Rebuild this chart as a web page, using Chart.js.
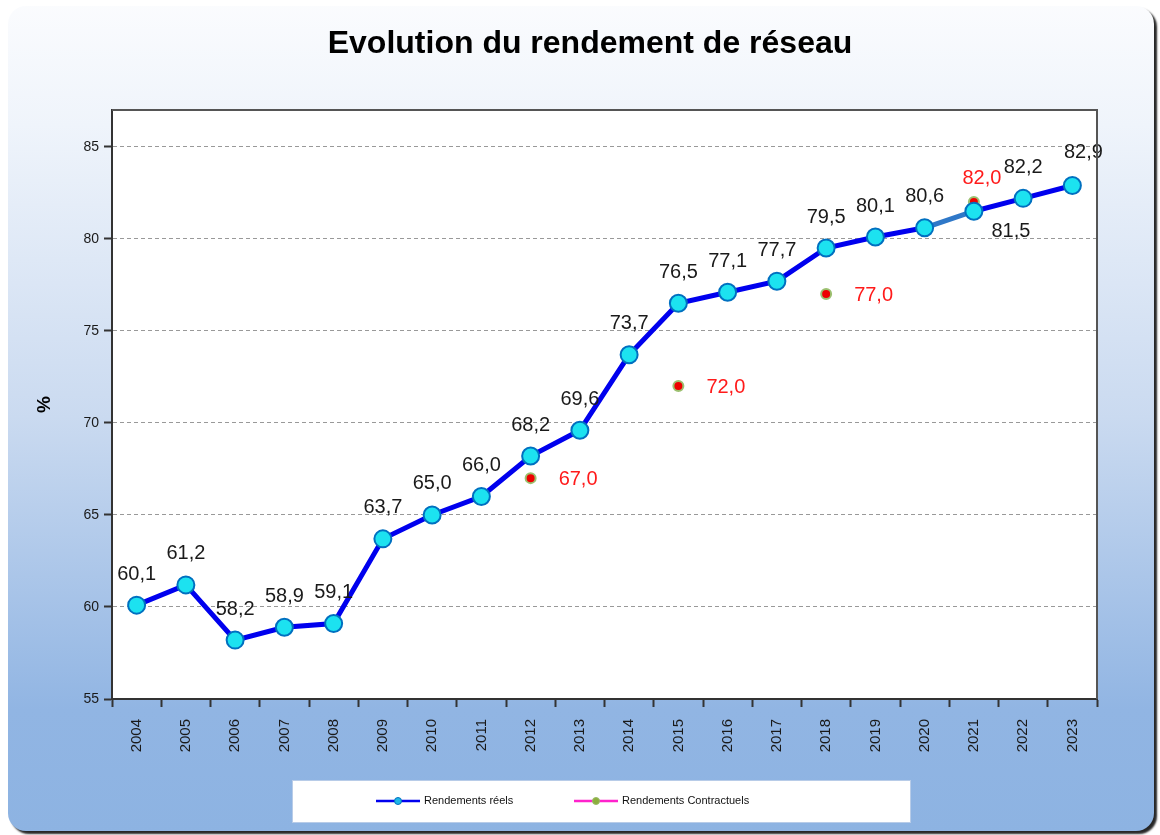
<!DOCTYPE html>
<html>
<head>
<meta charset="utf-8">
<script src="https://cdn.jsdelivr.net/npm/chart.js@4.4.1/dist/chart.umd.min.js"></script>
<style>
  html, body { margin: 0; padding: 0; background: #ffffff; }
  #wrap { width: 1160px; height: 835px; }
</style>
</head>
<body>
<div id="wrap"><canvas id="rendementChart" width="1160" height="835"></canvas></div>
<script>
// Données
const annees = ['2004', '2005', '2006', '2007', '2008', '2009', '2010', '2011', '2012', '2013',
                '2014', '2015', '2016', '2017', '2018', '2019', '2020', '2021', '2022', '2023'];
const rendementsReels = [60.1, 61.2, 58.2, 58.9, 59.1, 63.7, 65.0, 66.0, 68.2, 69.6,
                         73.7, 76.5, 77.1, 77.7, 79.5, 80.1, 80.6, 81.5, 82.2, 82.9];
const rendementsContractuels = [null, null, null, null, null, null, null, null, 67.0, null,
                                null, 72.0, null, null, 77.0, null, null, 82.0, null, null];
const graduationsY = [55, 60, 65, 70, 75, 80, 85];

const fmt = v => v.toFixed(1).replace('.', ',');

// Fond dégradé + zone de tracé blanche + cadre
const fondPlugin = {
    id: 'fond',
    beforeDraw(chart) {
        const { ctx, chartArea: a } = chart;
        ctx.save();
        ctx.fillStyle = '#ffffff';
        ctx.fillRect(0, 0, chart.width, chart.height);
        const g = ctx.createLinearGradient(0, 0, 0, chart.height);
        g.addColorStop(0, '#fbfcfe');
        g.addColorStop(0.15, '#eff4fb');
        g.addColorStop(0.5, '#cadaf0');
        g.addColorStop(0.85, '#91b5e3');
        g.addColorStop(1, '#8db3e2');
        ctx.shadowColor = 'rgba(0,0,0,0.85)';
        ctx.shadowOffsetX = 3;
        ctx.shadowOffsetY = 3;
        ctx.shadowBlur = 2;
        ctx.fillStyle = g;
        ctx.beginPath();
        ctx.roundRect(8, 6, chart.width - 14, chart.height - 10, 18);
        ctx.fill();
        ctx.restore();
        ctx.save();
        ctx.fillStyle = '#ffffff';
        ctx.fillRect(a.left, a.top, a.right - a.left, a.bottom - a.top);
        ctx.restore();
    },
    afterDraw(chart) {
        const { ctx, chartArea: a } = chart;
        ctx.save();
        ctx.strokeStyle = '#555555';
        ctx.lineWidth = 2;
        ctx.beginPath();
        ctx.moveTo(a.left, a.top);
        ctx.lineTo(a.right, a.top);
        ctx.lineTo(a.right, a.bottom);
        ctx.stroke();
        ctx.restore();
    }
};

// Étiquettes de valeurs
const etiquettesPlugin = {
    id: 'etiquettes',
    afterDatasetsDraw(chart) {
        const { ctx } = chart;
        const reels = chart.getDatasetMeta(0).data;
        const contr = chart.getDatasetMeta(1).data;
        ctx.save();
        ctx.font = '20px "Liberation Sans", Arial, sans-serif';
        ctx.textBaseline = 'middle';
        rendementsReels.forEach((v, i) => {
            const p = reels[i];
            const c = rendementsContractuels[i];
            ctx.fillStyle = '#1a1a1a';
            ctx.textAlign = 'center';
            if (c !== null && c > v) {
                ctx.fillText(fmt(v), p.x + 37, p.y + 20);
            } else if (i === rendementsReels.length - 1) {
                ctx.fillText(fmt(v), p.x + 11, p.y - 33);
            } else {
                ctx.fillText(fmt(v), p.x, p.y - 31);
            }
        });
        rendementsContractuels.forEach((v, i) => {
            if (v === null) return;
            const p = contr[i];
            ctx.fillStyle = '#ff1a1a';
            if (v > rendementsReels[i]) {
                ctx.textAlign = 'center';
                ctx.fillText(fmt(v), p.x + 8, p.y - 24);
            } else {
                ctx.textAlign = 'left';
                ctx.fillText(fmt(v), p.x + 28, p.y + 1);
            }
        });
        ctx.restore();
    }
};

// Légende dans un cadre blanc
const legendePlugin = {
    id: 'legende',
    afterDraw(chart) {
        const { ctx } = chart;
        const bx = 292, by = 780, bw = 618, bh = 42;
        const cy = by + bh / 2;
        ctx.save();
        ctx.fillStyle = '#ffffff';
        ctx.fillRect(bx, by, bw, bh);
        ctx.strokeStyle = '#b8cce8';
        ctx.lineWidth = 1;
        ctx.strokeRect(bx + 0.5, by + 0.5, bw, bh);

        const items = [
            { x: 376, texte: 'Rendements réels', ligne: '#0000ee', fond: '#1fb7e6', bord: '#0070c0' },
            { x: 574, texte: 'Rendements Contractuels', ligne: '#ff22cc', fond: '#8cae3c', bord: '#99bb66' }
        ];
        items.forEach(it => {
            ctx.strokeStyle = it.ligne;
            ctx.lineWidth = 2.5;
            ctx.beginPath();
            ctx.moveTo(it.x, cy);
            ctx.lineTo(it.x + 44, cy);
            ctx.stroke();
            ctx.beginPath();
            ctx.arc(it.x + 22, cy, 3.5, 0, Math.PI * 2);
            ctx.fillStyle = it.fond;
            ctx.fill();
            ctx.strokeStyle = it.bord;
            ctx.lineWidth = 1;
            ctx.stroke();
            ctx.fillStyle = '#111111';
            ctx.font = '11px "Liberation Sans", Arial, sans-serif';
            ctx.textAlign = 'left';
            ctx.textBaseline = 'middle';
            ctx.fillText(it.texte, it.x + 48, cy);
        });
        ctx.restore();
    }
};

const ctx = document.getElementById('rendementChart').getContext('2d');

new Chart(ctx, {
    type: 'line',
    data: {
        labels: annees,
        datasets: [{
            label: 'Rendements réels',
            data: rendementsReels,
            borderColor: '#0000ee',
            borderWidth: 5,
            pointRadius: 8.5,
            pointBackgroundColor: '#1ce2f0',
            pointBorderColor: '#0070c0',
            pointBorderWidth: 2,
            tension: 0,
            segment: {
                borderColor: s => s.p0DataIndex === 16 ? '#2f78c8' : undefined
            }
        }, {
            label: 'Rendements Contractuels',
            data: rendementsContractuels,
            showLine: false,
            borderColor: '#ff22cc',
            pointRadius: 5,
            pointBackgroundColor: '#ee0000',
            pointBorderColor: '#9cc070',
            pointBorderWidth: 2
        }]
    },
    options: {
        responsive: false,
        devicePixelRatio: 1,
        animation: false,
        layout: { padding: { left: 20, right: 0, top: 0, bottom: 0 } },
        plugins: {
            legend: { display: false },
            tooltip: { enabled: false },
            title: {
                display: true,
                text: 'Evolution du rendement de réseau',
                color: '#000000',
                font: { family: '"Liberation Sans", Arial, sans-serif', size: 32, weight: 'bold', lineHeight: 1.2 },
                padding: { top: 25, bottom: 46.6 }
            }
        },
        scales: {
            x: {
                offset: true,
                ticks: {
                    minRotation: 90,
                    maxRotation: 90,
                    padding: 12,
                    color: '#1a1a1a',
                    font: { family: '"Liberation Sans", Arial, sans-serif', size: 15 }
                },
                grid: {
                    offset: true,
                    drawOnChartArea: false,
                    drawTicks: true,
                    tickLength: 8,
                    tickColor: '#333333',
                    tickWidth: 2
                },
                border: { color: '#333333', width: 2 },
                afterFit: scale => { scale.height = 136; }
            },
            y: {
                min: 55,
                max: 87,
                afterBuildTicks: scale => {
                    scale.ticks = graduationsY.map(v => ({ value: v }));
                },
                ticks: {
                    padding: 5,
                    color: '#1a1a1a',
                    font: { family: '"Liberation Sans", Arial, sans-serif', size: 14 }
                },
                grid: {
                    color: '#999999',
                    lineWidth: 1,
                    drawTicks: true,
                    tickLength: 8,
                    tickColor: '#333333',
                    tickWidth: 2,
                    tickBorderDash: []
                },
                border: { color: '#333333', width: 2, dash: [4, 3] },
                title: {
                    display: true,
                    text: '%',
                    color: '#000000',
                    font: { family: '"Liberation Sans", Arial, sans-serif', size: 19, weight: 'bold' },
                    padding: { top: 13.6 }
                },
                afterFit: scale => { scale.width = 92; }
            },
            // axe vide à droite pour réserver la marge
            yDroite: {
                type: 'linear',
                position: 'right',
                display: true,
                grid: { display: false },
                ticks: { display: false },
                border: { display: false },
                afterFit: scale => { scale.width = 63; }
            }
        }
    },
    plugins: [fondPlugin, etiquettesPlugin, legendePlugin]
});
</script>
</body>
</html>
